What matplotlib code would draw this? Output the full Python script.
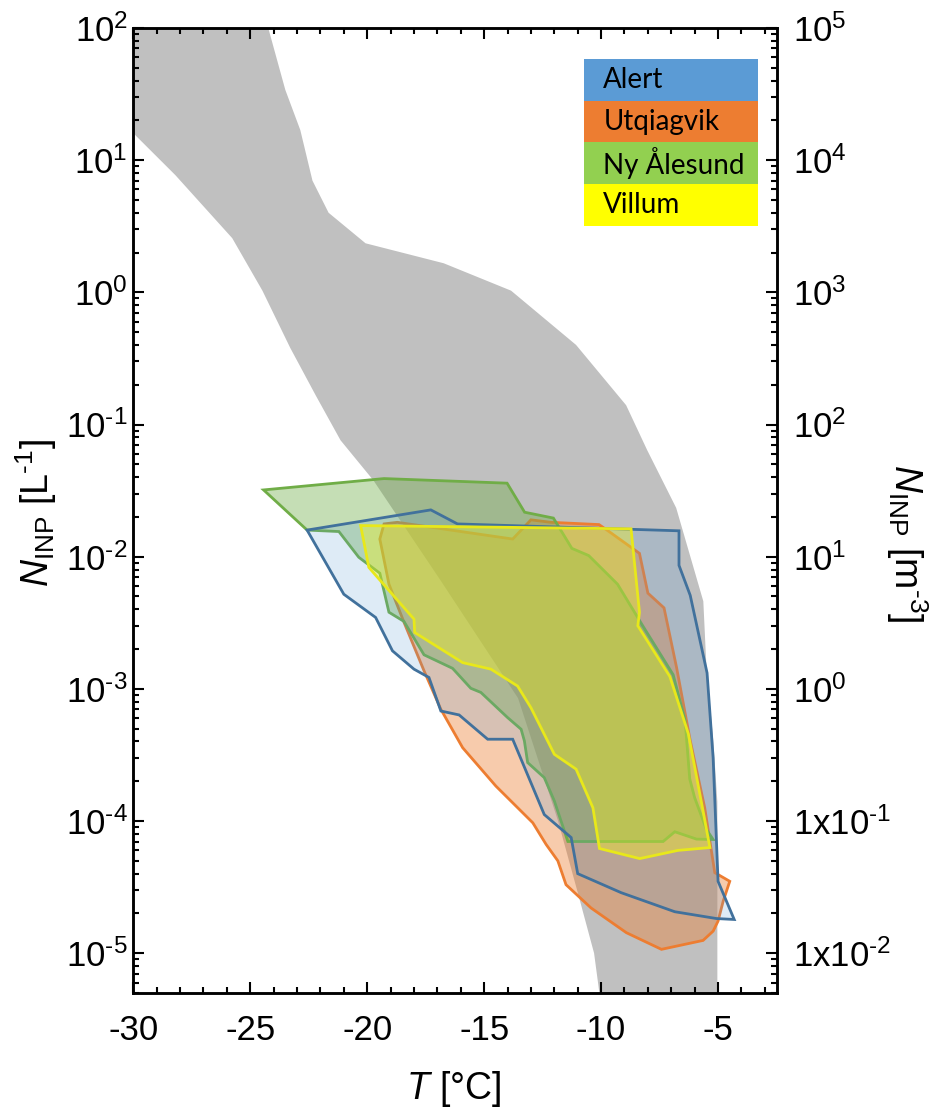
import numpy as np
import matplotlib
matplotlib.use("Agg")
import matplotlib.pyplot as plt
from matplotlib.patches import Rectangle
from matplotlib.ticker import FixedLocator, LogLocator, MultipleLocator, NullFormatter

plt.rcParams['font.family'] = ['Liberation Sans', 'DejaVu Sans']
plt.rcParams['mathtext.fontset'] = 'custom'
plt.rcParams['mathtext.rm'] = 'Liberation Sans'
plt.rcParams['mathtext.it'] = 'Liberation Sans:italic'
plt.rcParams['mathtext.default'] = 'regular'
plt.rcParams['axes.unicode_minus'] = False

# grey literature band: lower/left edge, then upper/right edge
grey_low_T = [-30.0, -28.2, -25.77, -24.48, -23.29, -22.2, -21.14, -19.73, -16.86, -13.55, -11.84, -10.98, -10.3, -10.0]
grey_low_N = [16, 7.7, 2.57, 1.03, 0.38, 0.166, 0.076, 0.0377, 0.0066, 8.5e-4, 1e-4, 2.8e-5, 1e-5, 4e-6]
grey_up_T = [-24.23, -23.5, -22.86, -22.34, -21.65, -20.07, -16.73, -13.85, -11.07, -8.93, -8.03, -6.79, -5.63, -5.5, -5.2, -5.03, -5.03]
grey_up_N = [100, 34, 16.9, 7.0, 4.0, 2.35, 1.66, 1.03, 0.40, 0.14, 0.064, 0.0234, 0.0046, 0.0015, 4e-4, 1.4e-4, 4e-6]

# station envelopes (T in degC, N_INP in L-1)
alert_T = [-22.57, -17.28, -16.14, -6.67, -6.67, -6.19, -5.47, -5.21, -5.0, -4.31, -5.07, -6.85, -9.14, -11.0,
           -11.28, -12.43, -13.78, -14.85, -16.07, -16.85, -17.36, -18.0, -18.92, -19.64, -21.0]
alert_N = [0.0159, 0.0226, 0.0177, 0.0157, 0.0086, 0.0051, 1.32e-3, 3.0e-4, 3.5e-5, 1.8e-5, 1.83e-5, 2.06e-5, 2.87e-5, 4.0e-5,
           7.5e-5, 1.12e-4, 4.16e-4, 4.16e-4, 6.35e-4, 6.8e-4, 1.22e-3, 1.41e-3, 1.94e-3, 3.47e-3, 5.2e-3]

utq_T = [-19.28, -18.71, -13.78, -13.0, -12.14, -10.09, -9.66, -8.36, -8.0, -7.31, -6.77, -6.19, -5.57, -5.14, -4.5,
         -4.78, -5.0, -5.21, -5.64, -7.42, -8.92, -10.43, -11.5, -11.85, -12.35, -12.92, -14.5, -15.92, -16.85, -17.57,
         -18.43, -19.07, -19.46]
utq_N = [0.0177, 0.0182, 0.0136, 0.019, 0.0182, 0.0175, 0.0155, 0.0106, 0.0053, 0.0041, 1.44e-3, 4.07e-4, 1.26e-4, 4.07e-5, 3.5e-5,
         2.48e-5, 1.75e-5, 1.47e-5, 1.25e-5, 1.07e-5, 1.43e-5, 2.2e-5, 3.3e-5, 5.0e-5, 6.65e-5, 9.7e-5, 1.84e-4, 3.59e-4, 7.0e-4, 1.37e-3,
         3.2e-3, 6.2e-3, 0.0136]

ny_T = [-24.43, -19.28, -14.02, -13.27, -12.04, -11.25, -10.53, -9.3, -8.22, -6.92, -6.41, -6.21, -6.0, -5.5, -5.21,
        -5.92, -6.85, -7.35, -11.42, -12.0, -12.43, -13.14, -13.28, -13.42, -14.0, -15.14, -15.57, -16.35, -17.57, -18.43,
        -19.07, -19.46, -20.36, -21.21, -22.57]
ny_N = [0.032, 0.039, 0.036, 0.0217, 0.0196, 0.01156, 0.0102, 6.2e-3, 3.0e-3, 1.28e-3, 5.8e-4, 2.08e-4, 1.5e-4, 8.65e-5, 7.25e-5,
        7.3e-5, 8.3e-5, 7.0e-5, 7.0e-5, 1.42e-4, 2.13e-4, 2.77e-4, 4.04e-4, 4.95e-4, 6.07e-4, 9.4e-4, 1.01e-3, 1.43e-3, 1.81e-3, 3.24e-3,
        3.8e-3, 7.5e-3, 9.9e-3, 0.0155, 0.0159]

villum_T = [-20.28, -8.72, -8.36, -8.43, -7.06, -6.27, -5.64, -5.35, -6.71, -8.35, -10.07, -10.35, -11.07, -12.0,
            -13.0, -13.57, -14.71, -15.92, -17.97, -18.0, -19.93]
villum_N = [0.0172, 0.01625, 3.8e-3, 3.0e-3, 1.24e-3, 4.57e-4, 1.19e-4, 6.3e-5, 6.0e-5, 5.2e-5, 6.2e-5, 1.26e-4, 2.47e-4, 3.2e-4,
            7.2e-4, 1.05e-3, 1.41e-3, 1.58e-3, 2.67e-3, 3.37e-3, 8.3e-3]

stations = ['Alert', 'Utqiagvik', 'Ny Ålesund', 'Villum']
legend_colors = ['#5b9bd5', '#ed7d31', '#92d050', '#ffff00']

HY = '\u2010'  # short hyphen as in the original tick labels
left_ticks = [1e-5, 1e-4, 1e-3, 1e-2, 1e-1, 1e0, 1e1, 1e2]
left_exps = ['-5', '-4', '-3', '-2', '-1', '0', '1', '2']
right_ticks = [1e-2, 1e-1, 1e0, 1e1, 1e2, 1e3, 1e4, 1e5]
right_prefix = ['1x', '1x', '', '', '', '', '', '']
right_exps = ['-2', '-1', '0', '1', '2', '3', '4', '5']

left_labels = ['10$^{%s}$' % e.replace('-', HY) for e in left_exps]
right_labels = ['%s10$^{%s}$' % (p, e.replace('-', HY)) for p, e in zip(right_prefix, right_exps)]

fig = plt.figure(figsize=(9.4, 11.11), dpi=100)
ax = fig.add_axes([0.1418, 0.1062, 0.6843, 0.8686])
ax.set_yscale('log')

# grey band
gT = grey_low_T + grey_up_T[::-1] + [-30.0]
gN = grey_low_N + grey_up_N[::-1] + [100]
ax.fill(gT, gN, color='#c0c0c0', lw=0, zorder=1)

ax.fill(utq_T, utq_N, facecolor=(0.929, 0.490, 0.192, 0.4), edgecolor='#ed7d31', lw=2, zorder=2)
ax.fill(ny_T, ny_N, facecolor=(0.439, 0.678, 0.278, 0.4), edgecolor='#70ad47', lw=2, zorder=3)
ax.fill(alert_T, alert_N, facecolor=(0.357, 0.608, 0.835, 0.2), edgecolor='#41719c', lw=2, zorder=4)
ax.fill(villum_T, villum_N, facecolor=(1.0, 1.0, 0.0, 0.33), edgecolor='#e8e81a', lw=2, zorder=5)

ax.set_xlim(-30, -2.5)
ax.set_ylim(5e-6, 1e2)

ax.set_xticks([-30, -25, -20, -15, -10, -5])
ax.set_xticklabels(['-30', '-25', '-20', '-15', '-10', '-5'])
ax.xaxis.set_minor_locator(MultipleLocator(1))
ax.yaxis.set_major_locator(FixedLocator(left_ticks))
ax.set_yticklabels(left_labels)
ax.yaxis.set_minor_locator(LogLocator(base=10, subs=np.arange(2, 10), numticks=20))
ax.yaxis.set_minor_formatter(NullFormatter())

ax.tick_params(axis='both', which='both', direction='in', width=1.5, labelsize=25)
ax.tick_params(axis='x', which='both', top=True, bottom=True, pad=15)
ax.tick_params(axis='y', which='both', left=True, right=False, pad=4)
ax.tick_params(which='major', length=8)
ax.tick_params(which='minor', length=4.5)
for s in ax.spines.values():
    s.set_linewidth(1.8)

ax2 = ax.twinx()
ax2.set_yscale('log')
ax2.set_ylim(5e-3, 1e5)
ax2.yaxis.set_major_locator(FixedLocator(right_ticks))
ax2.set_yticklabels(right_labels)
ax2.yaxis.set_minor_locator(LogLocator(base=10, subs=np.arange(2, 10), numticks=20))
ax2.yaxis.set_minor_formatter(NullFormatter())
ax2.tick_params(axis='y', which='both', direction='in', width=1.5, labelsize=25, pad=12)
ax2.tick_params(which='major', length=8)
ax2.tick_params(which='minor', length=4.5)
for s in ax2.spines.values():
    s.set_linewidth(1.8)

# legend as stacked coloured boxes
box_x0, box_w = 0.7007, 0.2706
box_top, box_h = 0.9679, 0.04326
for i, (name, col) in enumerate(zip(stations, legend_colors)):
    y0 = box_top - (i + 1) * box_h
    ax2.add_patch(Rectangle((box_x0, y0), box_w, box_h, transform=ax2.transAxes,
                            facecolor=col, edgecolor='none', zorder=10))
    ax2.text(box_x0 + 0.03, y0 + box_h / 2, name, transform=ax2.transAxes, fontsize=20,
             family=['Lato', 'DejaVu Sans'], va='center', ha='left', zorder=11)

fig.text(0.039, 1 - 513 / 1111, r'$\mathit{N}_{INP}$ [L$^{' + HY + '1}$]', rotation=90,
         ha='center', va='center', fontsize=27)
fig.text(907 / 940, 1 - 543 / 1111, r'$\mathit{N}_{INP}$ [m$^{' + HY + '3}$]', rotation=270,
         ha='center', va='center', fontsize=27)
fig.text(454 / 940, 1 - 1089 / 1111, r'$\mathit{T}$ [°C]', ha='center', va='center', fontsize=27)

fig.savefig('out.png', dpi=100)
